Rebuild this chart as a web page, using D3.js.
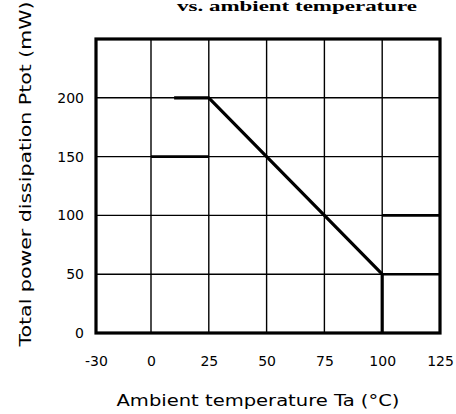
<!DOCTYPE html>
<html>
<head>
<meta charset="utf-8">
<script src="https://cdn.jsdelivr.net/npm/d3@7/dist/d3.min.js"></script>
<style>
  html, body { margin: 0; padding: 0; background: #fff; }
  svg { display: block; }
</style>
</head>
<body>
<svg id="chart" width="456" height="414"></svg>
<script>
// Ambient temperature ticks (°C) and power ticks (mW)
const tempTicks = [-30, 0, 25, 50, 75, 100, 125];
const powerTicks = [0, 50, 100, 150, 200];
const powerMax = 250;

// Derating curve: total power dissipation vs. ambient temperature
const curveTemp  = [10, 25, 100, 100];
const curvePower = [200, 200, 50, 0];

// Heavier guide segments along the grid: [power, fromTemp, toTemp]
const guidePower = [150, 100, 50];
const guideFrom  = [0, 100, 100];
const guideTo    = [25, 125, 125];

const svg = d3.select("#chart");
const plotLeft = 96, plotRight = 440, plotTop = 39, plotBottom = 333;

// The -30 column is drawn at the same width as the others
const x = d3.scaleLinear().domain([-30, 0, 125]).range([plotLeft, 151, plotRight]);
const y = d3.scaleLinear().domain([0, powerMax]).range([plotBottom, plotTop]);

// Title line
svg.append("text")
  .attr("x", 297).attr("y", 11)
  .attr("text-anchor", "middle")
  .attr("font-family", "Liberation Serif, serif")
  .attr("font-size", 14)
  .attr("font-weight", "bold")
  .attr("textLength", 240)
  .attr("lengthAdjust", "spacingAndGlyphs")
  .text("vs. ambient temperature");

// Grid
const grid = svg.append("g").attr("stroke", "#000").attr("stroke-width", 1.4);
grid.selectAll("line.v")
  .data(tempTicks.slice(1, -1))
  .join("line")
  .attr("class", "v")
  .attr("x1", d => x(d)).attr("x2", d => x(d))
  .attr("y1", plotTop).attr("y2", plotBottom);
grid.selectAll("line.h")
  .data(powerTicks.slice(1))
  .join("line")
  .attr("class", "h")
  .attr("x1", plotLeft).attr("x2", plotRight)
  .attr("y1", d => y(d)).attr("y2", d => y(d));

// Guide segments
svg.append("g").attr("stroke", "#000").attr("stroke-width", 2.6)
  .selectAll("line")
  .data(guidePower.map((p, i) => ({ p, a: guideFrom[i], b: guideTo[i] })))
  .join("line")
  .attr("x1", d => x(d.a)).attr("x2", d => x(d.b))
  .attr("y1", d => y(d.p)).attr("y2", d => y(d.p));

// Derating curve
const line = d3.line().x(d => x(d[0])).y(d => y(d[1]));
svg.append("path")
  .datum(curveTemp.map((t, i) => [t, curvePower[i]]))
  .attr("d", line)
  .attr("fill", "none")
  .attr("stroke", "#000")
  .attr("stroke-width", 3.2)
  .attr("stroke-linejoin", "round");

// Frame
svg.append("rect")
  .attr("x", plotLeft).attr("y", plotTop)
  .attr("width", plotRight - plotLeft).attr("height", plotBottom - plotTop)
  .attr("fill", "none")
  .attr("stroke", "#000")
  .attr("stroke-width", 3.2);

// Axes (labels only; the frame and grid carry the lines)
const xAxis = d3.axisBottom(x).tickValues(tempTicks).tickSize(0).tickPadding(0)
  .tickFormat(d => String(d));
const gx = svg.append("g").attr("transform", `translate(0,${plotBottom + 23})`).call(xAxis);
gx.select(".domain").remove();
gx.selectAll("text")
  .attr("font-family", "DejaVu Sans, sans-serif")
  .attr("font-size", 14)
  .attr("fill", "#000");

const yAxis = d3.axisLeft(y).tickValues(powerTicks).tickSize(0).tickPadding(12)
  .tickFormat(d => String(d));
const gy = svg.append("g").attr("transform", `translate(${plotLeft},0)`).call(yAxis);
gy.select(".domain").remove();
gy.selectAll("text")
  .attr("font-family", "DejaVu Sans, sans-serif")
  .attr("font-size", 14)
  .attr("fill", "#000");

// Axis titles
svg.append("text")
  .attr("x", 258).attr("y", 406)
  .attr("text-anchor", "middle")
  .attr("font-family", "DejaVu Sans, sans-serif")
  .attr("font-size", 16)
  .attr("textLength", 283)
  .attr("lengthAdjust", "spacingAndGlyphs")
  .text("Ambient temperature  Ta (°C)");

svg.append("text")
  .attr("transform", "translate(31,174) rotate(-90)")
  .attr("text-anchor", "middle")
  .attr("font-family", "DejaVu Sans, sans-serif")
  .attr("font-size", 16)
  .attr("textLength", 345)
  .attr("lengthAdjust", "spacingAndGlyphs")
  .text("Total power dissipation  Ptot  (mW)");
</script>
</body>
</html>
